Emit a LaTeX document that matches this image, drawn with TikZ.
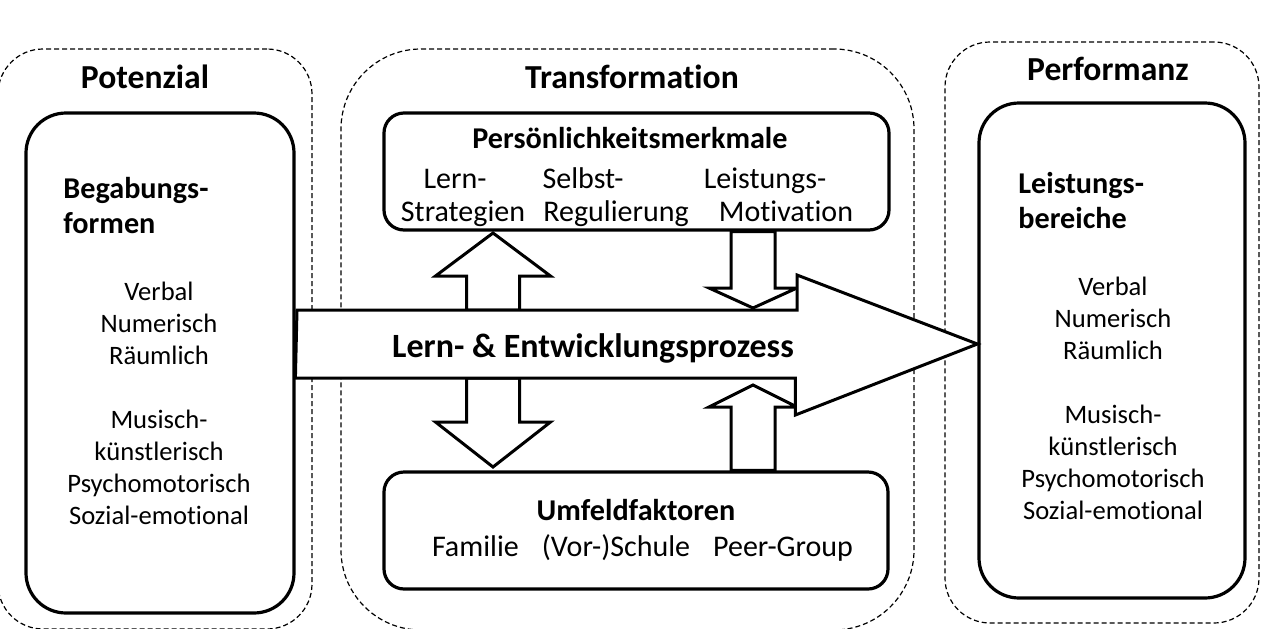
\documentclass[tikz,border=0pt]{standalone}
\usepackage{fontspec}
\setmainfont{Carlito}[RawFeature={-liga;-clig;-calt;-dlig}]
\usetikzlibrary{positioning}

\begin{document}
\begin{tikzpicture}[
		x=0.5pt, y=-0.5pt,
		zone/.style={draw, line width=0.6pt, dash pattern=on 2.5pt off 1.5pt, inner sep=0pt},
		panel/.style={draw, line width=1.6pt, inner sep=0pt},
		fat/.style={draw, fill=white, line width=1.5pt, line join=miter},
		title/.style={font=\bfseries\fontsize{16.8}{20}\selectfont, anchor=base},
		head/.style={font=\bfseries\fontsize{15.1}{17.5}\selectfont, align=left, inner sep=0pt, anchor=west},
		sub/.style={font=\bfseries\fontsize{15.1}{18}\selectfont, anchor=base, inner sep=0pt},
		txt/.style={font=\fontsize{15}{17}\selectfont, anchor=base, inner sep=0pt},
		lst/.style={font=\fontsize{13.3}{16}\selectfont, align=center, inner sep=0pt}
	]
	\useasboundingbox (0,0) rectangle (1266,628);
	\clip (0,0) rectangle (1266,628);

	% dashed zones
	\node[zone, rounded corners=22.5pt, minimum width=157pt, minimum height=290pt] (pot) at (155,339) {};
	\node[zone, rounded corners=40pt, minimum width=286.5pt, minimum height=290.5pt] (trans) at (627.5,339.5) {};
	\node[zone, rounded corners=22.5pt, minimum width=157pt, minimum height=290.5pt] (perf) at (1102,332.5) {};

	% solid boxes
	\node[panel, rounded corners=20pt, minimum width=134pt, minimum height=250pt] (potbox) at (160,363) {};
	\node[panel, rounded corners=20pt, minimum width=133pt, minimum height=247.5pt] (perfbox) at (1112,350.5) {};
	\node[panel, rounded corners=10pt, minimum width=252.5pt, minimum height=58.5pt] (pers) at (636.5,171.5) {};
	\node[panel, rounded corners=10pt, minimum width=252pt, minimum height=58.5pt] (umf) at (636,530.5) {};

	% small block arrows
	\draw[fat] (493,310) ++(-26.5,0) -- ++(0,-34) -- ++(-31,0) -- (493,233) -- ++(57.5,43) -- ++(-31,0) -- ++(0,34) -- cycle;
	\draw[fat] (493,378) ++(-26.5,0) -- ++(0,44) -- ++(-31,0) -- (493,467) -- ++(57.5,-45) -- ++(-31,0) -- ++(0,-44) -- cycle;
	\draw[fat] (pers.south -| 731,0) -- (731,288) -- (709,288) -- (753,308) -- (797,288) -- (775,288) -- (pers.south -| 775,0) -- cycle;
	\draw[fat] (umf.north -| 731,0) -- (731,407) -- (709,407) -- (753,385) -- (797,407) -- (775,407) -- (umf.north -| 775,0) -- cycle;

	% main process arrow
	\coordinate (pstart) at (297,344);
	\coordinate (ptip) at (perfbox.west |- pstart);
	\draw[fat] (pstart) ++(0,-34) -- ++(500,0) -- ++(0,-35) -- (ptip) -- ++(-182,71) -- ++(0,-37) -- ++(-500,0) -- cycle;
	\node[font=\bfseries\fontsize{17}{20}\selectfont, anchor=base, inner sep=0pt] (proc) at (593,357) {Lern- \& Entwicklungsprozess};

	% titles
	\node[title] (pottitle) at (145,88) {Potenzial};
	\node[title] (transtitle) at (632,88) {Transformation};
	\node[title] (perftitle) at (1108,80) {Performanz};

	% Potenzial
	\node[head] (begab) at (63,205.5) {Begabungs-\\formen};
	\node[lst] (potlist) at (159,403) {Verbal\\Numerisch\\Räumlich\\[16pt]Musisch-\\künstlerisch\\Psychomotorisch\\Sozial-emotional};

	% Performanz
	\node[head] (leist) at (1018,200.5) {Leistungs-\\bereiche};
	\node[lst] (perflist) at (1113,398) {Verbal\\Numerisch\\Räumlich\\[16pt]Musisch-\\künstlerisch\\Psychomotorisch\\Sozial-emotional};

	% Transformation
	\node[sub] (perstitle) at (630,148) {Persönlichkeitsmerkmale};
	\node[txt] (lern) at (455,188) {Lern-};
	\node[txt] (selbst) at (583,188) {Selbst-};
	\node[txt] (leistm) at (765,188) {Leistungs-};
	\node[txt] (strat) at (463,221) {Strategien};
	\node[txt] (regul) at (616,221) {Regulierung};
	\node[txt] (motiv) at (786,221) {Motivation};

	\node[sub] (umftitle) at (636,520) {Umfeldfaktoren};
	\node[txt] (umfline) at (642.5,556) {Familie\hspace{11.5pt}(Vor-)Schule\hspace{11.5pt}Peer-Group};
\end{tikzpicture}
\end{document}
